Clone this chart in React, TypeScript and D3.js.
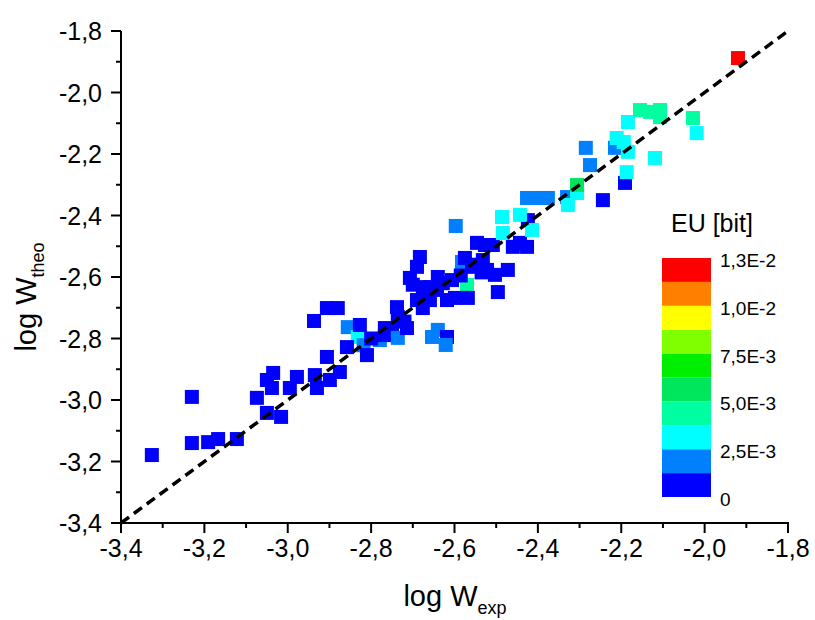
import React from "react";
import * as d3 from "d3";

// log W_exp values
const logWexp = [
  -3.326, -3.23, -3.23, -3.191, -3.167, -3.122, -3.074, -3.05, -3.035, -3.038,
  -3.05, -3.016, -2.995, -2.978, -2.935, -2.93, -2.899, -2.906, -2.875, -2.937,
  -2.906, -2.88, -2.856, -2.832, -2.827, -2.858, -2.818, -2.81, -2.779, -2.767,
  -2.767, -2.75, -2.738, -2.736, -2.736, -2.714, -2.683, -2.69, -2.707, -2.676,
  -2.659, -2.642, -2.69, -2.676, -2.659, -2.654, -2.64, -2.618, -2.621, -2.582,
  -2.57, -2.606, -2.599, -2.618, -2.568, -2.558, -2.546, -2.575, -2.628, -2.532,
  -2.522, -2.503, -2.472, -2.496, -2.527, -2.508, -2.46, -2.443, -2.426, -2.424,
  -2.484, -2.486, -2.443, -2.414, -2.597, -2.426, -2.395, -2.376, -2.33, -2.328,
  -2.306, -2.306, -2.244, -2.191, -2.187, -2.119, -2.285, -2.275, -2.215, -2.211,
  -2.194, -2.184, -2.184, -2.155, -2.131, -2.107, -2.107, -2.028, -2.019, -1.92,
  -2.70, -2.665, -2.55, -2.535, -2.64, -2.585, -2.72, -2.80,
];
// log W_theo values
const logWtheo = [
  -3.179, -2.99, -3.14, -3.137, -3.127, -3.127, -2.993, -2.935, -2.912, -2.961,
  -3.042, -3.055, -2.961, -2.925, -2.919, -2.961, -2.935, -2.86, -2.909, -2.743,
  -2.701, -2.701, -2.763, -2.795, -2.756, -2.828, -2.822, -2.854, -2.805, -2.789,
  -2.766, -2.772, -2.698, -2.73, -2.798, -2.766, -2.535, -2.567, -2.603, -2.633,
  -2.633, -2.642, -2.675, -2.701, -2.675, -2.795, -2.772, -2.795, -2.821, -2.551,
  -2.626, -2.61, -2.668, -2.675, -2.668, -2.567, -2.489, -2.538, -2.62, -2.545,
  -2.577, -2.593, -2.577, -2.649, -2.496, -2.496, -2.502, -2.489, -2.502, -2.415,
  -2.457, -2.405, -2.398, -2.447, -2.434, -2.343, -2.343, -2.343, -2.34, -2.366,
  -2.327, -2.301, -2.35, -2.294, -2.259, -2.213, -2.18, -2.236, -2.18, -2.148,
  -2.161, -2.193, -2.096, -2.057, -2.063, -2.057, -2.08, -2.083, -2.132, -1.888,
  -2.625, -2.655, -2.56, -2.585, -2.60, -2.595, -2.745, -2.80,
];
// EU [bit] values
const euBit = [
  0.0006, 0.0006, 0.0006, 0.0006, 0.0006, 0.0006, 0.0006, 0.0006, 0.0006, 0.0006,
  0.0006, 0.0006, 0.0006, 0.0006, 0.0006, 0.0006, 0.0006, 0.0006, 0.0006, 0.0006,
  0.0006, 0.0006, 0.0018, 0.0031, 0.0006, 0.0006, 0.0018, 0.0006, 0.0018, 0.0006,
  0.0006, 0.0006, 0.0006, 0.0006, 0.0018, 0.0006, 0.0006, 0.0006, 0.0006, 0.0006,
  0.0006, 0.0006, 0.0006, 0.0006, 0.0006, 0.0018, 0.0018, 0.0006, 0.0018, 0.0018,
  0.0044, 0.0006, 0.0006, 0.0006, 0.0006, 0.0006, 0.0006, 0.0006, 0.0006, 0.0006,
  0.0006, 0.0006, 0.0006, 0.0006, 0.0006, 0.0006, 0.0006, 0.0006, 0.0006, 0.0006,
  0.0031, 0.0031, 0.0031, 0.0031, 0.0018, 0.0018, 0.0018, 0.0018, 0.0018, 0.0031,
  0.0031, 0.0056, 0.0006, 0.0006, 0.0031, 0.0031, 0.0018, 0.0018, 0.0018, 0.0031,
  0.0031, 0.0031, 0.0031, 0.0044, 0.0044, 0.0044, 0.0044, 0.0044, 0.0031, 0.0124,
  0.0006, 0.0006, 0.0006, 0.0006, 0.0006, 0.0006, 0.0006, 0.0006,
];

const xTicks = [-3.4, -3.2, -3.0, -2.8, -2.6, -2.4, -2.2, -2.0, -1.8];
const yTicks = [-3.4, -3.2, -3.0, -2.8, -2.6, -2.4, -2.2, -2.0, -1.8];
const bandColors = [
  "#0000FF", "#0080FF", "#00FFFF", "#00FFA0", "#00E65C",
  "#00EE00", "#80FF00", "#FFFF00", "#FF8000", "#FF0000",
];
const euTickValues = [0, 0.0025, 0.005, 0.0075, 0.01, 0.0125];
const euTickLabels = ["0", "2,5E-3", "5,0E-3", "7,5E-3", "1,0E-2", "1,3E-2"];

const W = 815, H = 620;
const M = { left: 121, right: 788, top: 31, bottom: 523 };
const FONT = "'Liberation Sans', Arial, sans-serif";

export default function App() {
  const x = d3.scaleLinear().domain([-3.4, -1.8]).range([M.left, M.right]);
  const y = d3.scaleLinear().domain([-3.4, -1.8]).range([M.bottom, M.top]);
  const step = 1.25e-3;
  const thresholds = d3.range(1, 10).map((i) => i * step);
  const color = d3.scaleThreshold<number, string>().domain(thresholds).range(bandColors);
  const cb = d3.scaleLinear().domain([0, 0.0125]).range([497, 258]);
  const fmt = (v: number) => v.toFixed(1).replace(".", ",");
  const minorX = d3.range(0, 16).map((i) => -3.3 + i * 0.2).filter((v) => v < -1.8);
  const minorY = minorX;
  const sq = 14;
  const line = d3.line<number>().x((d) => x(d)).y((d) => y(d));

  return (
    <svg width={W} height={H} style={{ display: "block", position: "absolute", left: 0, top: 0 }} fontFamily={FONT}>
      <rect width={W} height={H} fill="#fff" />
      {logWexp.map((v, i) => (
        <rect key={i} x={x(v) - sq / 2} y={y(logWtheo[i]) - sq / 2} width={sq} height={sq}
          fill={color(euBit[i])} />
      ))}
      <path d={line([-3.4, -1.8]) || ""} stroke="#000" strokeWidth={3.5} strokeDasharray="10,6" fill="none" />
      {/* axes */}
      <line x1={M.left} x2={M.right + 1} y1={M.bottom} y2={M.bottom} stroke="#000" strokeWidth={2} />
      <line x1={M.left} x2={M.left} y1={M.top} y2={M.bottom + 1} stroke="#000" strokeWidth={2} />
      {xTicks.map((t) => (
        <g key={"xt" + t}>
          <line x1={x(t)} x2={x(t)} y1={M.bottom} y2={M.bottom + 10} stroke="#000" strokeWidth={2} />
          <text x={x(t)} y={M.bottom + 34} textAnchor="middle" fontSize={25}>{fmt(t)}</text>
        </g>
      ))}
      {minorX.map((t) => (
        <line key={"xm" + t} x1={x(t)} x2={x(t)} y1={M.bottom} y2={M.bottom + 5} stroke="#000" strokeWidth={2} />
      ))}
      {yTicks.map((t) => (
        <g key={"yt" + t}>
          <line x1={M.left - 10} x2={M.left} y1={y(t)} y2={y(t)} stroke="#000" strokeWidth={2} />
          <text x={M.left - 19} y={y(t) + 9} textAnchor="end" fontSize={25}>{fmt(t)}</text>
        </g>
      ))}
      {minorY.map((t) => (
        <line key={"ym" + t} x1={M.left - 5} x2={M.left} y1={y(t)} y2={y(t)} stroke="#000" strokeWidth={2} />
      ))}
      {/* axis titles */}
      <text x={455} y={606} textAnchor="middle" fontSize={29}>
        log W<tspan fontSize={18} dy={8}>exp</tspan>
      </text>
      <text transform="translate(36,297) rotate(-90)" textAnchor="middle" fontSize={29}>
        log W<tspan fontSize={18} dy={8}>theo</tspan>
      </text>
      {/* color legend */}
      <text x={712} y={232} textAnchor="middle" fontSize={25}>EU [bit]</text>
      {bandColors.map((c, i) => (
        <rect key={"b" + i} x={662} y={cb((i + 1) * step)} width={49} height={cb(i * step) - cb((i + 1) * step)} fill={c} />
      ))}
      {euTickValues.map((v, i) => (
        <text key={"el" + i} x={720} y={cb(v) + 9} fontSize={19}>{euTickLabels[i]}</text>
      ))}
    </svg>
  );
}
